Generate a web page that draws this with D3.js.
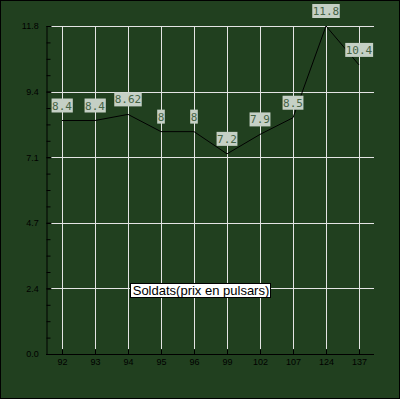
<!DOCTYPE html>
<html>
<head>
<meta charset="utf-8">
<script src="https://cdn.jsdelivr.net/npm/d3@7"></script>
<style>
  body { margin: 0; background: #fff; }
  svg { display: block; }
</style>
</head>
<body>
<svg width="400" height="400"></svg>
<script>
// categories and prices
var categories = ["92", "93", "94", "95", "96", "99", "102", "107", "124", "137"];
var values = [8.4, 8.4, 8.62, 8, 8, 7.2, 7.9, 8.5, 11.8, 10.4];
var valueLabels = ["8.4", "8.4", "8.62", "8", "8", "7.2", "7.9", "8.5", "11.8", "10.4"];
var yTicks = [0, 2.36, 4.72, 7.08, 9.44, 11.8];
var yTickLabels = ["0.0", "2.4", "4.7", "7.1", "9.4", "11.8"];
var legendText = "Soldats(prix en pulsars)";

var svg = d3.select("svg");

svg.append("rect")
    .attr("x", 0.5).attr("y", 0.5)
    .attr("width", 399).attr("height", 398)
    .attr("fill", "#21401f")
    .attr("stroke", "#000");

var pLeft = 46, pRight = 374, pTop = 26, pBottom = 354;

var x = d3.scalePoint()
    .domain(categories)
    .range([62, 359]);

var y = d3.scaleLinear()
    .domain([0, 11.8])
    .range([pBottom, pTop]);

// grid
var g = svg.append("g");
g.selectAll("line.hgrid")
    .data(yTicks.slice(1))
    .enter().append("line")
    .attr("x1", pLeft + 5).attr("x2", pRight)
    .attr("y1", function(d) { return Math.round(y(d)) + 0.5; })
    .attr("y2", function(d) { return Math.round(y(d)) + 0.5; })
    .attr("stroke", "#e4e4e4");

g.selectAll("line.vgrid")
    .data(categories)
    .enter().append("line")
    .attr("x1", function(d) { return Math.round(x(d)) + 0.5; })
    .attr("x2", function(d) { return Math.round(x(d)) + 0.5; })
    .attr("y1", pTop).attr("y2", pBottom - 5)
    .attr("stroke", "#e4e4e4");

// y axis: minor then major ticks
var minor = d3.range(0, 21).map(function(i) { return 11.8 * i / 20; });
svg.append("g")
    .attr("transform", "translate(" + (pLeft + 0.5) + ",0)")
    .call(d3.axisLeft(y).tickValues(minor).tickSize(-4).tickFormat(""))
    .call(function(a) { a.select(".domain").remove(); });

var yAxis = svg.append("g")
    .attr("transform", "translate(" + (pLeft + 0.5) + ",0)")
    .call(d3.axisLeft(y).tickValues(yTicks).tickSize(-5).tickSizeOuter(0).tickPadding(6)
        .tickFormat(function(d, i) { return yTickLabels[i]; }));

var xAxis = svg.append("g")
    .attr("transform", "translate(0," + (pBottom + 0.5) + ")")
    .call(d3.axisBottom(x).tickSize(-5).tickSizeOuter(0).tickPadding(4));
xAxis.select(".domain").attr("d", "M" + pLeft + ",0H" + pRight);

svg.selectAll(".tick line").attr("stroke", "#000");
svg.selectAll(".domain").attr("stroke", "#000");
svg.selectAll(".tick text")
    .attr("fill", "#000")
    .style("font-family", "Liberation Sans, Arial, sans-serif")
    .style("font-size", "9px");
yAxis.selectAll(".tick text").attr("dx", "-0.2em");

// line
var line = d3.line()
    .x(function(d, i) { return x(categories[i]); })
    .y(function(d) { return y(d); });

svg.append("path")
    .datum(values)
    .attr("d", line)
    .attr("fill", "none")
    .attr("stroke", "#000")
    .attr("stroke-width", 1);

// value labels
var lab = svg.selectAll("g.lab")
    .data(values)
    .enter().append("g")
    .attr("transform", function(d, i) {
        return "translate(" + x(categories[i]) + "," + (y(d) - 8) + ")";
    });

lab.each(function(d, i) {
    var gg = d3.select(this);
    var t = gg.append("text")
        .attr("text-anchor", "middle")
        .attr("y", -3)
        .style("font-family", "DejaVu Sans Mono, monospace")
        .style("font-size", "11px")
        .attr("fill", "#456445")
        .text(valueLabels[i]);
    var b = t.node().getBBox();
    gg.insert("rect", "text")
        .attr("x", b.x - 0.5)
        .attr("y", -14)
        .attr("width", b.width + 1)
        .attr("height", 14)
        .attr("fill", "#c5d0c5");
});

// legend
var lg = svg.append("g").attr("transform", "translate(201,290)");
var lt = lg.append("text")
    .attr("text-anchor", "middle")
    .attr("y", 5)
    .style("font-family", "Liberation Sans, Arial, sans-serif")
    .style("font-size", "13px")
    .attr("fill", "#000")
    .text(legendText);
lg.insert("rect", "text")
    .attr("x", -70.5).attr("y", -6.5)
    .attr("width", 140).attr("height", 14)
    .attr("fill", "#fff")
    .attr("stroke", "#000");
</script>
</body>
</html>
